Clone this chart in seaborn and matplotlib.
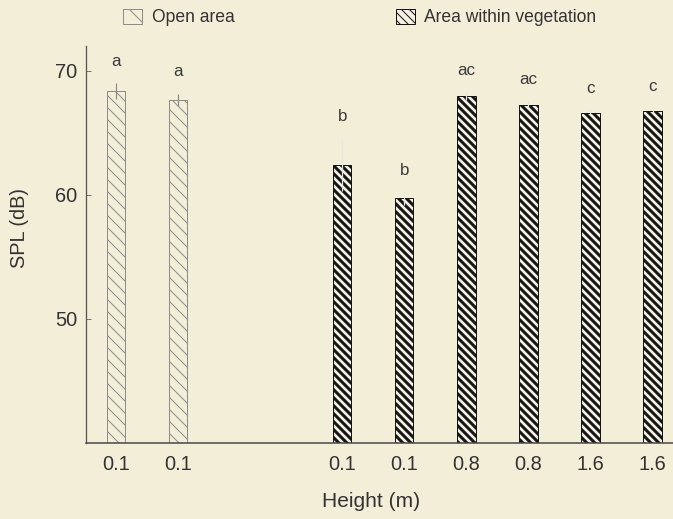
import matplotlib
matplotlib.use('Agg')
import matplotlib.pyplot as plt
from matplotlib.patches import Patch
import seaborn as sns
import pandas as pd
import numpy as np

# values
heights = ['0.1', '0.1', '0.1', '0.1', '0.8', '0.8', '1.6', '1.6']
groups = ['Open area', 'Open area',
          'Area within vegetation', 'Area within vegetation', 'Area within vegetation',
          'Area within vegetation', 'Area within vegetation', 'Area within vegetation']
spl_mean = [68.35, 67.65, 62.4, 59.7, 67.95, 67.25, 66.6, 66.75]
spl_se = [0.65, 0.5, 2.1, 0.5, 0.3, 0.3, 0.2, 0.2]
letters = ['a', 'a', 'b', 'b', 'ac', 'ac', 'c', 'c']

# layout: bar slots along the x axis (gap between the two groups)
slots = [0, 1, 3.65, 4.65, 5.65, 6.65, 7.65, 8.65]

df = pd.DataFrame({'pos': slots, 'height': heights, 'group': groups,
                   'spl': spl_mean, 'se': spl_se, 'letter': letters})

bg = '#f2eed8'
sns.set_style('ticks')
plt.rcParams['font.family'] = ['Liberation Sans', 'DejaVu Sans']

fig = plt.figure(figsize=(673 / 72, 519 / 72), dpi=72, facecolor=bg)
ax = fig.add_axes([86 / 673, 0.147, 1 - 86 / 673, 0.7645])
ax.set_facecolor(bg)

styles = {'Open area': dict(face=bg, edge='#8c8c8c', hatch='\\\\', hlw=1.0, err='#8c8c8c'),
          'Area within vegetation': dict(face='#f4f1e4', edge='#151515', hatch='\\\\\\',
                                         hlw=3.0, err='#e6e6e6')}

# one barplot call per group so each gets its own hatch line width
for grp in ['Open area', 'Area within vegetation']:
    st = styles[grp]
    sub = df[df['group'] == grp]
    n0 = len(ax.patches)
    with plt.rc_context({'hatch.linewidth': st['hlw']}):
        sns.barplot(data=sub, x='pos', y='spl', native_scale=True, width=0.295,
                    errorbar=None, color=st['face'], ax=ax)
        for bar in ax.patches[n0:]:
            bar.set_facecolor(st['face'])
            bar.set_edgecolor(st['edge'])
            bar.set_linewidth(1.0)
            bar.set_hatch(st['hatch'])
            if hasattr(bar, 'set_hatch_linewidth'):
                bar.set_hatch_linewidth(st['hlw'])
    ax.errorbar(sub['pos'], sub['spl'], yerr=sub['se'], fmt='none',
                ecolor=st['err'], elinewidth=1.2, capsize=0, zorder=5)

for _, r in df.iterrows():
    ax.annotate(r['letter'], (r['pos'], r['spl'] + r['se']), xytext=(0, 22),
                textcoords='offset points', ha='center', va='center',
                fontsize=17, color='#3a3a3a')

ax.set_ylim(40, 72)
ax.set_xlim(-0.48, 8.98)
ax.set_yticks([50, 60, 70])
ax.set_xticks(slots)
ax.set_xticklabels(heights)
ax.tick_params(axis='y', direction='in', length=5, width=1, color='#777777',
               labelsize=20, labelcolor='#333333', pad=9)
ax.tick_params(axis='x', length=0, labelsize=20, labelcolor='#333333', pad=12)

for side in ['top', 'right']:
    ax.spines[side].set_visible(False)
ax.spines['left'].set_color('#555555')
ax.spines['bottom'].set_color('#444444')
ax.spines['left'].set_linewidth(1.3)
ax.spines['bottom'].set_linewidth(1.5)

ax.set_xlabel('Height (m)', fontsize=21, color='#333333')
ax.set_ylabel('SPL (dB)', fontsize=20, color='#333333')
ax.xaxis.set_label_coords(0.4855, -0.125)
ax.yaxis.set_label_coords(-0.097, 0.54)

with plt.rc_context({'hatch.linewidth': 1.0}):
    h_open = Patch(facecolor=bg, edgecolor='#8c8c8c', hatch='\\', linewidth=1.0)
with plt.rc_context({'hatch.linewidth': 3.2}):
    h_veg = Patch(facecolor='#f4f1e4', edgecolor='#151515', hatch='\\\\\\', linewidth=1.0)
fig.legend([h_open, h_veg], ['Open area', 'Area within vegetation'], loc='center left',
           bbox_to_anchor=(123 / 673, 1 - 17.5 / 519), ncol=2, frameon=False,
           fontsize=17.5, handlelength=1.1, handleheight=1.0, handletextpad=0.55,
           columnspacing=9.2, borderpad=0, borderaxespad=0, labelcolor='#333333')

fig.savefig('out.png', dpi=72, facecolor=bg)
